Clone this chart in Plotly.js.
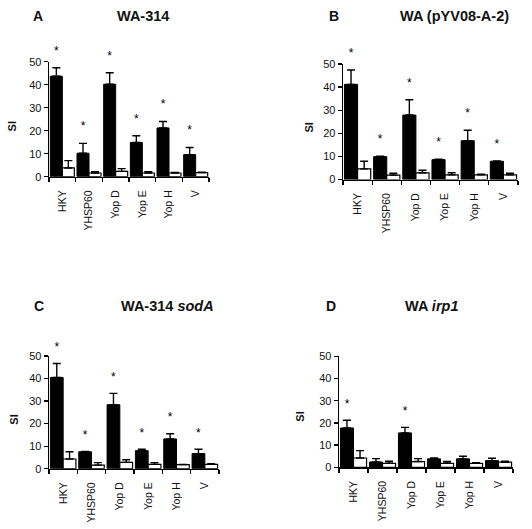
<!DOCTYPE html>
<html>
<head>
<meta charset="utf-8">
<script src="https://cdn.plot.ly/plotly-3.0.1.min.js"></script>
<style>html,body{margin:0;padding:0;background:#fff;}#chart{width:532px;height:529px;}</style>
</head>
<body>
<div id="chart"></div>
<script>
// ---- data ----
const categories = ["HKY", "YHSP60", "Yop D", "Yop E", "Yop H", "V"];

const panelLetters = ["A", "B", "C", "D"];
const panelTitles = ["WA-314", "WA (pYV08-A-2)", "WA-314 <i>sodA</i>", "WA <i>irp1</i>"];

const blackA = [43.7, 10.2, 40.2, 14.9, 21.2, 9.6];
const blackErrA = [3.7, 4.3, 5.0, 2.9, 2.8, 3.1];
const whiteA = [3.8, 1.6, 2.3, 1.6, 1.6, 1.8];
const whiteErrA = [3.2, 0.6, 1.2, 0.6, 0.2, 0.2];
const starsA = [1, 1, 1, 1, 1, 1];

const blackB = [41.2, 9.9, 27.9, 8.6, 16.8, 7.9];
const blackErrB = [6.2, 0.2, 6.6, 0.2, 4.5, 0.1];
const whiteB = [4.6, 1.9, 2.9, 2.0, 2.0, 2.0];
const whiteErrB = [3.3, 0.8, 1.1, 0.9, 0.3, 0.7];
const starsB = [1, 1, 1, 1, 1, 1];

const blackC = [40.5, 7.5, 28.4, 8.0, 13.2, 6.7];
const blackErrC = [6.2, 0.2, 5.0, 0.6, 2.3, 1.9];
const whiteC = [4.3, 1.6, 2.8, 1.9, 1.8, 1.9];
const whiteErrC = [3.2, 1.1, 1.2, 0.8, 0.1, 0.3];
const starsC = [1, 1, 1, 1, 1, 1];

const blackD = [17.7, 2.4, 15.5, 3.8, 3.8, 3.0];
const blackErrD = [3.5, 1.5, 2.5, 0.4, 1.2, 1.1];
const whiteD = [4.2, 1.8, 2.6, 1.8, 1.8, 2.3];
const whiteErrD = [3.3, 0.9, 1.3, 0.8, 0.3, 0.4];
const starsD = [1, 0, 1, 0, 0, 0];

const yTicks = [0, 10, 20, 30, 40, 50];

// ---- build ----
const FONT = "Liberation Sans, Arial, Helvetica, sans-serif";
const W = 532, H = 529;
const YMAX = 50, STAR_YMAX = 70;
const panels = [
  {black: blackA, bErr: blackErrA, white: whiteA, wErr: whiteErrA, stars: starsA,
   x0: 49, x1: 209, y0: 176.7, y1: 61.7, letter: [37.7, 16.5], title: [142.5, 16.5], si: [11.7, 126.7]},
  {black: blackB, bErr: blackErrB, white: whiteB, wErr: whiteErrB, stars: starsB,
   x0: 343, x1: 518, y0: 179.5, y1: 64, letter: [334, 16], title: [454, 16], si: [308.5, 128]},
  {black: blackC, bErr: blackErrC, white: whiteC, wErr: whiteErrC, stars: starsC,
   x0: 49, x1: 219, y0: 468.7, y1: 356, letter: [38.7, 305.7], title: [167, 305.7], si: [13.7, 420]},
  {black: blackD, bErr: blackErrD, white: whiteD, wErr: whiteErrD, stars: starsD,
   x0: 339, x1: 513, y0: 467.3, y1: 356.3, letter: [331, 305.5], title: [431.5, 305.5], si: [300, 416.7]}
];

const traces = [];
const layout = {
  width: W, height: H,
  margin: {l: 0, r: 0, t: 0, b: 0},
  paper_bgcolor: "#fff", plot_bgcolor: "rgba(0,0,0,0)",
  showlegend: false,
  barmode: "group", bargap: 0.1, bargroupgap: 0,
  font: {family: FONT, color: "#111", size: 10},
  annotations: []
};

panels.forEach((p, i) => {
  const n = i === 0 ? "" : String(i + 1);
  const xa = "x" + n, ya = "y" + n;
  const sn = String(i + 5); // hidden linear axes (same scale, taller domain) for the asterisks
  const yb = 1 - p.y0 / H, yt = 1 - p.y1 / H;
  const errStyle = (arr) => ({type: "data", array: arr, arrayminus: arr.map(() => 0), symmetric: false,
    color: "#000", thickness: 1.4, width: 4});
  traces.push({type: "bar", x: categories, y: p.black, xaxis: xa, yaxis: ya,
    marker: {color: "#000", line: {color: "#000", width: 1}}, error_y: errStyle(p.bErr), hoverinfo: "skip"});
  traces.push({type: "bar", x: categories, y: p.white, xaxis: xa, yaxis: ya,
    marker: {color: "#fff", line: {color: "#000", width: 1.2}}, error_y: errStyle(p.wErr), hoverinfo: "skip"});

  // asterisks above the black bars (significance marks)
  const sx = [], sy = [];
  p.stars.forEach((s, k) => {
    if (!s) return;
    sx.push(k - 0.225);
    sy.push(p.black[k] + p.bErr[k] + 7);
  });
  traces.push({type: "scatter", mode: "text", x: sx, y: sy, text: sx.map(() => "*"),
    textposition: "middle center", cliponaxis: false, xaxis: "x" + sn, yaxis: "y" + sn,
    textfont: {family: FONT, size: 12, color: "#000"}, hoverinfo: "skip"});

  layout["xaxis" + n] = {
    domain: [p.x0 / W, p.x1 / W], anchor: ya, type: "category",
    range: [-0.5, categories.length - 0.5],
    showline: true, linecolor: "#000", linewidth: 1.4, mirror: false,
    ticks: "outside", tickson: "boundaries", ticklen: 4, tickwidth: 1.3, tickcolor: "#000",
    tickangle: -90, tickfont: {family: FONT, size: 10.5, color: "#111"}, ticklabelstandoff: 8,
    showgrid: false, zeroline: false, fixedrange: true
  };
  layout["yaxis" + n] = {
    domain: [yb, yt], anchor: xa,
    range: [0, YMAX], tickvals: yTicks, ticktext: yTicks.map(String),
    showline: true, linecolor: "#000", linewidth: 1.4,
    ticks: "outside", ticklen: 4, tickwidth: 1.3, tickcolor: "#000",
    tickfont: {family: FONT, size: 11, color: "#111"},
    showgrid: false, zeroline: false, fixedrange: true
  };
  layout["xaxis" + sn] = {
    domain: [p.x0 / W, p.x1 / W], anchor: "y" + sn, type: "linear",
    range: [-0.5, categories.length - 0.5],
    visible: false, showgrid: false, zeroline: false, fixedrange: true
  };
  layout["yaxis" + sn] = {
    domain: [yb, yb + (yt - yb) * STAR_YMAX / YMAX], anchor: "x" + sn, type: "linear",
    range: [0, STAR_YMAX],
    visible: false, showgrid: false, zeroline: false, fixedrange: true
  };

  // panel letter, title, y label
  layout.annotations.push({xref: "paper", yref: "paper", x: p.letter[0] / W, y: 1 - p.letter[1] / H,
    text: "<b>" + panelLetters[i] + "</b>", showarrow: false, xanchor: "center", yanchor: "middle",
    font: {family: FONT, size: 14, color: "#111"}});
  layout.annotations.push({xref: "paper", yref: "paper", x: p.title[0] / W, y: 1 - p.title[1] / H,
    text: "<b>" + panelTitles[i] + "</b>", showarrow: false, xanchor: "center", yanchor: "middle",
    font: {family: FONT, size: 14.5, color: "#111"}});
  layout.annotations.push({xref: "paper", yref: "paper", x: p.si[0] / W, y: 1 - p.si[1] / H,
    text: "<b>SI</b>", showarrow: false, xanchor: "center", yanchor: "middle", textangle: -90,
    font: {family: FONT, size: 11, color: "#111"}});
});

Plotly.newPlot("chart", traces, layout, {displayModeBar: false, staticPlot: true});
</script>
</body>
</html>
